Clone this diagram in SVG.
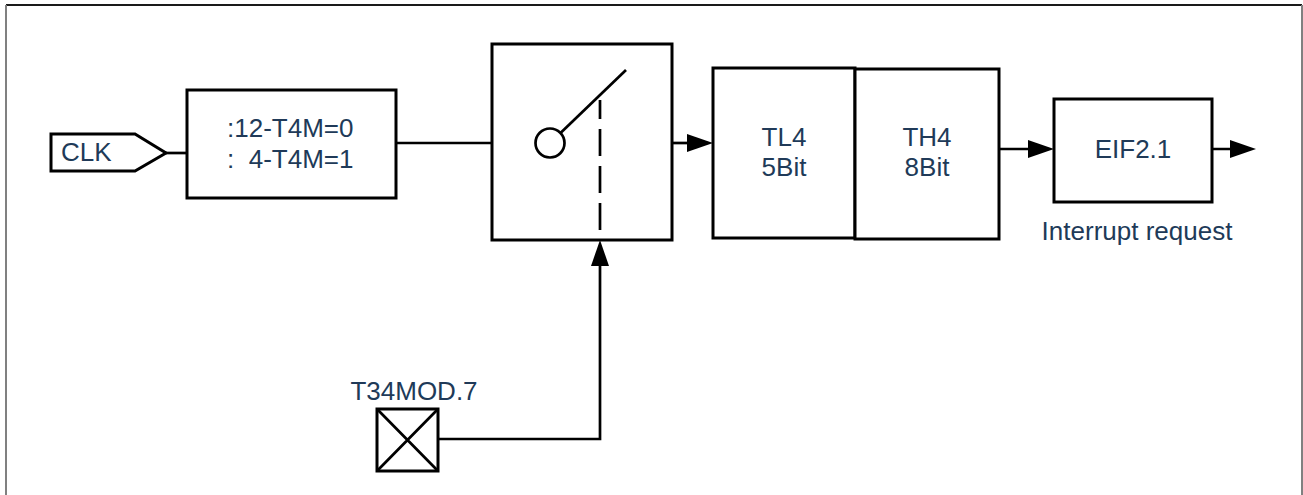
<svg xmlns="http://www.w3.org/2000/svg" width="1303" height="495" viewBox="0 0 1303 495">
<style>
.box{fill:#fff;stroke:#000;stroke-width:3}
.ln{fill:none;stroke:#000;stroke-width:2.7}
.t{font-family:"Liberation Sans",Arial,sans-serif;font-size:26px;fill:#203A58}
.m{text-anchor:middle}
</style>
<defs>
<marker id="ah" markerUnits="userSpaceOnUse" markerWidth="26" markerHeight="18" refX="16" refY="9" orient="auto" viewBox="0 0 26 18">
<path d="M0,0 L26,9 L0,18 z" fill="#000"/>
</marker>
</defs>
<rect width="1303" height="495" fill="#fff"/>
<g id="frame">
<line x1="6" y1="5" x2="1302" y2="5" stroke="#1a1a1a" stroke-width="2"/>
<line x1="6" y1="5" x2="6" y2="495" stroke="#808080" stroke-width="2"/>
<line x1="1302" y1="5" x2="1302" y2="495" stroke="#808080" stroke-width="2"/>
</g>
<g id="connectors">
<path class="ln" d="M166,153 H187"/>
<path class="ln" d="M396,143 H535.5"/>
<path class="ln" d="M672,143 H703" marker-end="url(#ah)"/>
<path class="ln" d="M999,149 H1044" marker-end="url(#ah)"/>
<path class="ln" d="M1212,149 H1246" marker-end="url(#ah)"/>
<path class="ln" d="M438,439 H600 V250" marker-end="url(#ah)"/>
</g>
<g id="clk">
<path class="box" d="M51,134 H135 L166,153 L135,171 H51 Z"/>
<text class="t" x="61" y="161">CLK</text>
</g>
<g id="divider">
<rect class="box" x="187" y="90" width="209" height="108"/>
<text class="t" x="227" y="137" xml:space="preserve">:12-T4M=0</text>
<text class="t" x="227" y="168" xml:space="preserve">:  4-T4M=1</text>
</g>
<g id="switch">
<rect class="box" x="492" y="44" width="180" height="196"/>
<circle cx="550" cy="143" r="14.5" fill="#fff" stroke="#000" stroke-width="2.7"/>
<line class="ln" x1="560.5" y1="133" x2="626" y2="70"/>
<line class="ln" x1="600" y1="100" x2="600" y2="240" stroke-dasharray="27 10" stroke-dashoffset="8"/>
</g>
<g id="tl4">
<rect class="box" x="713" y="68" width="142" height="170"/>
<text class="t m" x="784" y="146">TL4</text>
<text class="t m" x="784" y="176">5Bit</text>
</g>
<g id="th4">
<rect class="box" x="855" y="69" width="144" height="170"/>
<text class="t m" x="927" y="146">TH4</text>
<text class="t m" x="927" y="176">8Bit</text>
</g>
<g id="eif">
<rect class="box" x="1054" y="99" width="158" height="103"/>
<text class="t m" x="1133" y="158">EIF2.1</text>
<text class="t m" x="1137" y="240">Interrupt request</text>
</g>
<g id="t34mod">
<rect class="box" x="377" y="409" width="61" height="62"/>
<path class="ln" d="M377,409 L438,471 M438,409 L377,471"/>
<text class="t m" x="414" y="400">T34MOD.7</text>
</g>
</svg>
